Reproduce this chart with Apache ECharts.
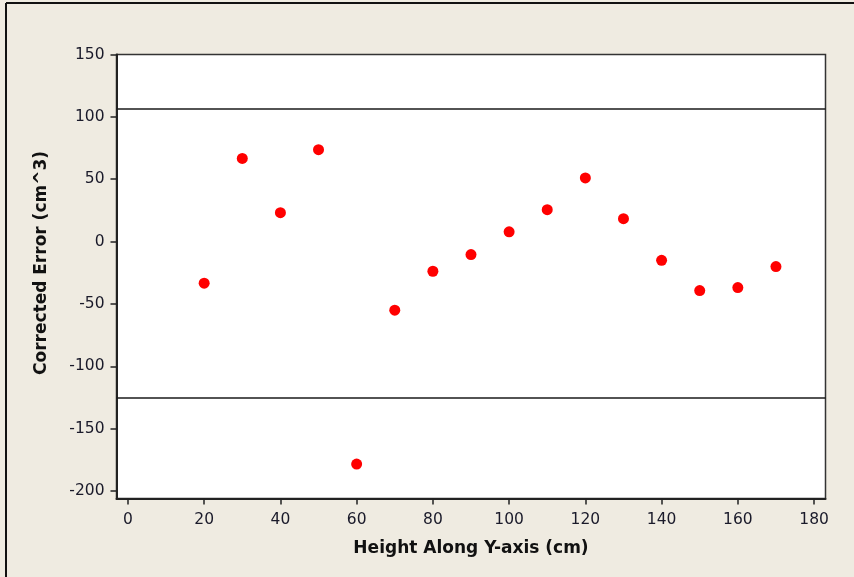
<!DOCTYPE html>
<html>
<head>
<meta charset="utf-8">
<script src="https://cdn.jsdelivr.net/npm/echarts@6/dist/echarts.min.js"></script>
<style>
  html, body { margin: 0; padding: 0; background: #EFEBE1; }
  #chart { width: 854px; height: 577px; }
</style>
</head>
<body>
<div id="chart"></div>
<script>
// Measurement heights (cm) and corrected error (cm^3)
const heights = [20, 30, 40, 50, 60, 70, 80, 90, 100, 110, 120, 130, 140, 150, 160, 170];
const errors  = [-33.4, 66.7, 23.2, 73.7, -178.4, -55.0, -23.8, -10.4, 7.8, 25.6, 51.0, 18.4, -15.0, -39.3, -36.9, -20.0];

// Reference limits drawn as horizontal lines
const upperLimit = 106.3;
const lowerLimit = -125.6;

// Tick values
const xTicks = [0, 20, 40, 60, 80, 100, 120, 140, 160, 180];
const yTicks = [-200, -150, -100, -50, 0, 50, 100, 150];

const points = heights.map((h, i) => [h, errors[i]]);
const fontFamily = '"DejaVu Sans", Verdana, sans-serif';

const chart = echarts.init(document.getElementById('chart'), null, { renderer: 'canvas' });
chart.setOption({
  backgroundColor: '#EFEBE1',
  animation: false,
  graphic: [
    { type: 'line', shape: { x1: 6, y1: 3, x2: 854, y2: 3 }, style: { stroke: '#111', lineWidth: 2 } },
    { type: 'line', shape: { x1: 6, y1: 3, x2: 6, y2: 577 }, style: { stroke: '#111', lineWidth: 2 } },
    {
      type: 'text', x: 42, y: 263, rotation: Math.PI / 2,
      style: {
        text: 'Corrected Error (cm^3)', fontFamily, fontSize: 17, fontWeight: 'bold',
        fill: '#111', align: 'center', verticalAlign: 'middle'
      }
    }
  ],
  grid: {
    left: 116.5, right: 28.5, top: 54.5, bottom: 78.5,
    show: true, backgroundColor: '#FFFFFF', borderColor: '#333', borderWidth: 1.5
  },
  xAxis: {
    type: 'value', min: -3, max: 183,
    name: 'Height Along Y-axis (cm)', nameLocation: 'middle', nameGap: 42,
    nameTextStyle: { fontFamily, fontSize: 17, fontWeight: 'bold', color: '#111' },
    splitLine: { show: false },
    axisLine: { show: true, onZero: false, lineStyle: { color: '#222', width: 2 } },
    axisTick: { show: true, length: 6, customValues: xTicks, lineStyle: { color: '#222', width: 1.5 } },
    axisLabel: { customValues: xTicks, fontFamily, fontSize: 15.5, color: '#1a1a2a', margin: 13, showMinLabel: true, showMaxLabel: true }
  },
  yAxis: {
    type: 'value', min: -206, max: 150,
    splitLine: { show: false },
    axisLine: { show: true, onZero: false, lineStyle: { color: '#222', width: 2 } },
    axisTick: { show: true, length: 6, customValues: yTicks, lineStyle: { color: '#222', width: 1.5 } },
    axisLabel: { customValues: yTicks, fontFamily, fontSize: 15.5, color: '#1a1a2a', margin: 12, showMinLabel: true, showMaxLabel: true }
  },
  series: [{
    type: 'scatter',
    data: points,
    symbol: 'circle',
    symbolSize: 11,
    itemStyle: { color: '#FF0000', opacity: 1 },
    markLine: {
      silent: true,
      symbol: 'none',
      label: { show: false },
      lineStyle: { color: '#1a1a1a', width: 1.5, type: 'solid' },
      data: [{ yAxis: upperLimit }, { yAxis: lowerLimit }]
    }
  }]
});
</script>
</body>
</html>
